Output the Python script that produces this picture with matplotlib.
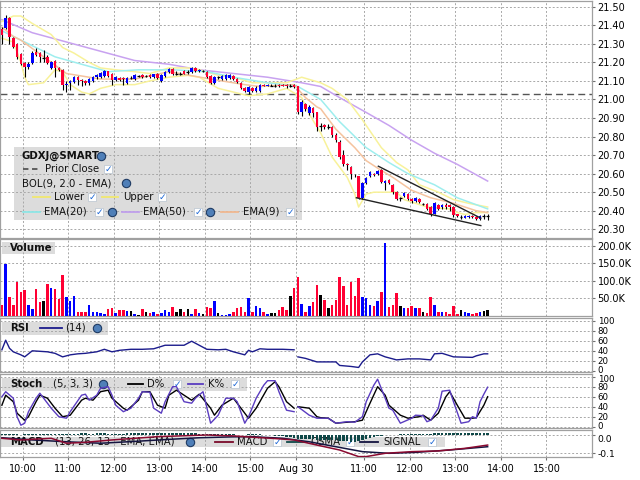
import matplotlib
matplotlib.use("Agg")
import matplotlib.pyplot as plt
from matplotlib.patches import Rectangle
from matplotlib.lines import Line2D
import matplotlib.transforms as mtransforms
import numpy as np

plt.rcParams['font.family'] = ['DejaVu Sans']

# ---------------- data (5-minute bars, day 1 = 0..77, day 2 = 78..128) ----------------
OPEN = [21.38,21.385,21.44,21.33,21.30,21.245,21.195,21.175,21.195,21.255,
        21.25,21.225,21.23,21.17,21.21,21.17,21.16,21.08,21.09,21.095,
        21.12,21.105,21.10,21.09,21.10,21.12,21.12,21.125,21.152,21.14,
        21.105,21.115,21.115,21.09,21.115,21.11,21.125,21.13,21.125,21.13,
        21.12,21.14,21.10,21.125,21.15,21.165,21.14,21.14,21.155,21.15,
        21.15,21.17,21.155,21.155,21.15,21.125,21.09,21.12,21.11,21.11,
        21.115,21.125,21.11,21.09,21.06,21.04,21.06,21.045,21.045,21.08,
        21.075,21.075,21.075,21.08,21.08,21.08,21.075,21.08,
        21.07,20.93,20.975,20.925,20.955,20.93,20.855,20.86,20.85,20.85,
        20.81,20.77,20.70,20.65,20.635,20.59,20.585,20.47,20.55,20.585,
        20.60,20.60,20.62,20.55,20.565,20.54,20.50,20.47,20.48,20.49,
        20.465,20.45,20.465,20.435,20.435,20.42,20.385,20.43,20.42,20.43,
        20.43,20.42,20.38,20.365,20.36,20.365,20.37,20.365,20.355,20.37,20.37]
HIGH = [21.39,21.455,21.445,21.335,21.305,21.25,21.20,21.20,21.26,21.28,
        21.255,21.265,21.24,21.21,21.215,21.175,21.165,21.10,21.105,21.125,
        21.125,21.11,21.105,21.115,21.125,21.135,21.15,21.16,21.155,21.145,
        21.125,21.12,21.12,21.12,21.125,21.135,21.13,21.135,21.13,21.135,
        21.14,21.145,21.135,21.155,21.17,21.17,21.155,21.15,21.16,21.16,
        21.175,21.175,21.165,21.16,21.155,21.13,21.125,21.125,21.13,21.135,
        21.135,21.13,21.115,21.095,21.065,21.075,21.065,21.07,21.085,21.085,
        21.085,21.085,21.085,21.085,21.085,21.085,21.085,21.085,
        21.075,20.995,20.98,20.97,20.96,20.935,20.875,20.87,20.87,20.855,
        20.82,20.78,20.725,20.66,20.64,20.60,20.59,20.555,20.58,20.615,
        20.605,20.62,20.625,20.565,20.57,20.545,20.505,20.475,20.50,20.495,
        20.47,20.475,20.47,20.44,20.44,20.425,20.445,20.435,20.435,20.44,
        20.435,20.425,20.385,20.375,20.375,20.375,20.375,20.37,20.375,20.38,20.38]
LOW = [21.30,21.38,21.30,21.28,21.22,21.185,21.12,21.165,21.19,21.235,
       21.20,21.20,21.19,21.165,21.12,21.155,21.05,21.04,21.05,21.09,
       21.08,21.075,21.08,21.08,21.095,21.11,21.115,21.12,21.12,21.08,
       21.10,21.10,21.08,21.085,21.11,21.105,21.12,21.115,21.12,21.115,
       21.115,21.11,21.095,21.12,21.145,21.13,21.13,21.13,21.135,21.14,
       21.145,21.15,21.15,21.15,21.115,21.085,21.085,21.11,21.105,21.105,
       21.11,21.105,21.09,21.055,21.04,21.03,21.04,21.04,21.04,21.07,
       21.07,21.07,21.065,21.065,21.07,21.06,21.065,21.06,
       20.92,20.91,20.94,20.915,20.905,20.83,20.83,20.84,20.84,20.80,
       20.77,20.68,20.64,20.62,20.57,20.58,20.465,20.465,20.545,20.58,
       20.59,20.595,20.55,20.51,20.545,20.49,20.46,20.455,20.475,20.46,
       20.44,20.445,20.44,20.43,20.405,20.37,20.38,20.405,20.41,20.41,
       20.40,20.365,20.365,20.355,20.36,20.36,20.36,20.35,20.35,20.355,20.35]
CLOSE = [21.35,21.44,21.335,21.285,21.23,21.19,21.175,21.19,21.25,21.24,
         21.23,21.225,21.195,21.20,21.17,21.16,21.08,21.085,21.10,21.12,
         21.105,21.10,21.09,21.11,21.12,21.13,21.145,21.152,21.125,21.105,
         21.12,21.105,21.11,21.115,21.115,21.13,21.125,21.12,21.125,21.12,
         21.135,21.115,21.13,21.15,21.165,21.135,21.14,21.14,21.14,21.15,
         21.17,21.155,21.16,21.155,21.12,21.09,21.12,21.12,21.125,21.13,
         21.13,21.11,21.095,21.06,21.045,21.065,21.045,21.06,21.08,21.075,
         21.08,21.075,21.075,21.07,21.075,21.07,21.075,21.065,
         20.93,20.985,20.95,20.96,20.925,20.85,20.855,20.85,20.85,20.81,
         20.78,20.69,20.65,20.645,20.60,20.585,20.47,20.55,20.575,20.61,
         20.595,20.615,20.555,20.56,20.55,20.50,20.465,20.47,20.495,20.465,
         20.45,20.47,20.445,20.435,20.41,20.385,20.44,20.41,20.43,20.42,
         20.42,20.375,20.37,20.365,20.37,20.37,20.365,20.355,20.37,20.37,20.37]
VOLUME_K = [32,148,55,31,98,67,74,31,19,77,
            38,41,91,81,76,48,117,55,41,57,
            12,12,12,32,12,12,8,6,19,22,
            8,15,15,13,13,4,2,19,10,7,
            12,5,8,15,11,25,12,19,12,19,
            5,19,7,4,24,23,41,7,3,3,
            4,10,23,25,10,52,12,29,23,10,
            5,8,8,15,24,15,57,81,
            112,34,12,29,39,88,60,45,23,32,
            45,112,86,32,98,57,107,55,52,32,
            29,41,69,209,25,32,64,27,23,21,
            29,23,23,12,7,55,31,10,12,10,
            4,29,4,15,12,8,6,7,12,13,15]

EMA50_BARS = [0,8,17,26,35,44,52,61,70,79,84,89,96,102,108,114,120,128]
EMA50 = [21.43,21.36,21.31,21.26,21.21,21.19,21.16,21.14,21.12,21.09,21.07,21.01,20.93,20.86,20.78,20.71,20.65,20.56]
EMA20_BARS = [0,5,14,21,28,36,45,54,61,70,78,84,89,96,102,107,114,120,124,128]
EMA20 = [21.37,21.32,21.23,21.19,21.15,21.16,21.16,21.15,21.12,21.09,21.07,21.00,20.88,20.74,20.66,20.60,20.54,20.47,20.44,20.41]
EMA9_BARS = [0,3,5,11,17,26,35,44,55,64,68,77,80,83,84,88,93,96,99,103,108,113,119,125,128]
EMA9 = [21.39,21.34,21.32,21.23,21.14,21.11,21.11,21.15,21.11,21.08,21.07,21.08,21.01,20.96,20.95,20.84,20.74,20.67,20.63,20.58,20.51,20.47,20.44,20.40,20.39]
BOL_UP_BARS = [0,3,5,8,13,16,19,23,26,30,35,39,44,49,52,57,61,66,70,75,79,84,87,91,95,100,104,107,110,115,119,123,128]
BOL_UP = [21.42,21.45,21.45,21.41,21.35,21.28,21.25,21.20,21.17,21.16,21.15,21.14,21.17,21.17,21.16,21.13,21.12,21.09,21.09,21.09,21.12,21.09,21.06,21.00,20.89,20.74,20.66,20.62,20.54,20.50,20.46,20.44,20.42]
BOL_LO_BARS = [0,3,5,6,7,11,14,16,18,21,23,26,30,35,39,44,49,52,57,61,65,70,75,79,81,84,87,91,93,94,96,98,104,106,112,118,120,122,125,128]
BOL_LO = [21.33,21.31,21.20,21.12,21.08,21.09,21.16,21.15,21.08,21.04,21.03,21.06,21.08,21.08,21.10,21.12,21.13,21.12,21.06,21.04,21.02,21.03,21.06,21.01,20.92,20.82,20.69,20.58,20.49,20.42,20.49,20.50,20.50,20.46,20.42,20.41,20.39,20.38,20.39,20.39]
PRIOR_CLOSE = 21.028
TREND_UP_BARS = [99.2, 126.2]
TREND_UP = [20.64, 20.36]
TREND_LO_BARS = [93.4, 126.2]
TREND_LO = [20.47, 20.32]

RSI_D1_BARS = [0,1,2,3,5,6,8,10,12,14,16,18,20,22,25,27,29,31,34,37,40,43,45,48,50,52,54,57,59,61,64,65,66,68,70,74,77]
RSI_D1 = [42,61,45,38,32,28,40,39,38,35,28,32,34,35,38,43,38,41,43,43,44,51,51,51,59,51,43,42,43,38,32,41,38,44,43,43,42]
RSI_D2_BARS = [78,80,83,88,89,92,94,95,96,97,99,101,104,107,110,113,114,116,119,124,125,127,128]
RSI_D2 = [28,25,18,18,11,9,7,18,25,32,34,28,22,24,24,22,34,35,28,27,30,34,34]

K_D1_BARS = [0,1,3,4,5,6,7,9,10,11,13,15,17,18,21,22,23,25,26,28,29,30,32,34,36,37,39,40,42,43,45,46,48,50,51,53,55,57,59,61,62,64,65,67,69,70,72,73,75,77]
K_D1 = [60,70,57,20,3,7,30,57,67,57,37,20,17,30,63,65,53,63,77,80,63,43,30,37,57,70,69,37,27,50,80,80,50,47,57,70,7,23,57,57,50,7,20,57,83,92,92,70,33,30]
K_D2_BARS = [78,81,83,84,86,88,91,93,95,96,98,99,101,102,103,105,108,109,111,112,113,115,116,118,119,121,123,124,125,126,127,128]
K_D2 = [40,23,17,17,17,7,10,9,20,50,83,95,57,37,33,7,17,23,22,10,13,37,71,73,50,7,10,20,17,50,65,79]
D_D1_BARS = [0,1,3,4,6,7,9,10,12,14,16,18,21,22,24,26,28,29,32,33,36,37,39,41,43,44,46,48,50,52,55,56,58,61,63,65,67,70,72,73,75,77]
D_D1 = [43,63,50,27,13,20,50,63,57,37,20,23,53,57,53,70,73,57,37,33,53,70,70,43,37,63,73,63,53,65,37,23,43,57,37,17,37,77,90,80,50,37]
D_D2_BARS = [78,81,83,84,86,88,91,93,95,97,99,101,102,105,107,110,111,113,115,117,118,120,122,124,125,127,128]
D_D2 = [40,37,20,18,17,7,9,10,13,47,80,63,43,23,17,20,23,13,27,60,70,43,17,17,18,43,60]

MACD_BARS = [0,5,13,17,22,29,35,41,47,54,61,66,71,77,83,89,94,96,101,108,115,122,128]
MACD = [-0.018,-0.027,-0.018,-0.045,-0.040,-0.027,-0.018,-0.009,-0.005,0.0,-0.005,-0.012,-0.018,-0.027,-0.055,-0.082,-0.118,-0.118,-0.100,-0.091,-0.087,-0.073,-0.055]
SIGNAL_BARS = [0,8,17,26,35,43,52,61,66,74,81,88,95,102,109,118,128]
SIGNAL = [-0.015,-0.027,-0.037,-0.045,-0.035,-0.025,-0.015,-0.010,-0.009,-0.018,-0.037,-0.064,-0.091,-0.100,-0.095,-0.082,-0.064]
OSMA = [0.004,0.006,0.008,0.006,0.004,0.002,0.004,0.006,0.008,0.008,
        0.006,0.006,0.004,0.004,0.006,0.008,0.006,0.004,0.006,0.008,
        0.008,0.010,0.010,0.008,0.008,0.010,0.010,0.010,0.008,0.008,
        0.008,0.008,0.008,0.010,0.010,0.010,0.010,0.010,0.010,0.010,
        0.010,0.010,0.012,0.012,0.012,0.010,0.010,0.010,0.010,0.010,
        0.010,0.010,0.008,0.008,0.006,0.006,0.006,0.006,0.006,0.006,
        0.004,0.004,0.002,0.002,0.002,0.004,0.004,0.004,0.004,0.002,
        0.002,-0.002,-0.004,-0.006,-0.008,-0.010,-0.012,-0.015,
        -0.020,-0.022,-0.022,-0.022,-0.024,-0.026,-0.026,-0.026,-0.028,-0.028,
        -0.030,-0.032,-0.034,-0.034,-0.036,-0.036,-0.034,-0.028,-0.022,-0.016,
        -0.012,-0.008,-0.006,-0.002,0.002,0.002,0.002,0.004,0.004,0.004,
        0.006,0.008,0.008,0.008,0.008,0.008,0.010,0.010,0.010,0.010,
        0.010,0.010,0.010,0.010,0.010,0.012,0.012,0.012,0.012,0.012,0.012]

PRICE_TICKS = [21.50,21.40,21.30,21.20,21.10,21.00,20.90,20.80,20.70,20.60,20.50,20.40,20.30]
VOL_TICKS = [50,100,150,200]
VOL_LABELS = ['50.0K','100.0K','150.0K','200.0K']
OSC_TICKS = [0,20,40,60,80,100]
MACD_TICKS = [0.0,-0.1]
MACD_LABELS = ['0.0','-0.1']
TIME_TICKS = [30,90,150,210,270,330,390,480,540,600,660,720]   # trading minutes since day-1 open
TIME_LABELS = ['10:00','11:00','12:00','13:00','14:00','15:00','Aug 30','11:00','12:00','13:00','14:00','15:00']

# ---------------- figure ----------------
W, H = 640, 480
fig = plt.figure(figsize=(6.4, 4.8), dpi=100)
fig.patch.set_facecolor('white')

def bx(b):
    return 5 * np.asarray(b, dtype=float) + 2.5

def make_ax(top, bottom):
    return fig.add_axes([0.0, 1 - bottom / H, 592 / W, (bottom - top) / H])

def style(ax, ticks, labels, ylim, lsize=7):
    ax.set_xlim(0, 780)
    ax.set_ylim(*ylim)
    ax.yaxis.tick_right()
    ax.set_yticks(ticks)
    ax.set_yticklabels(labels)
    ax.set_xticks(TIME_TICKS)
    ax.set_xticklabels([])
    ax.tick_params(axis='y', length=2.5, width=0.8, color='#707070', labelsize=lsize, pad=1.5, labelcolor='black')
    ax.tick_params(axis='x', length=0)
    ax.grid(True, color='#a8a8a8', linestyle=(0, (2, 2)), linewidth=0.7)
    ax.set_axisbelow(True)
    for s in ax.spines.values():
        s.set_color('#a0a0a0')
        s.set_linewidth(0.9)

def nudge(ax, text, dy_px):
    for lab in ax.get_yticklabels():
        if lab.get_text() == text:
            lab.set_transform(lab.get_transform() +
                              mtransforms.ScaledTranslation(0, dy_px / 100, fig.dpi_scale_trans))

def box(ax, x0, y0, x1, y1):
    ax.add_patch(Rectangle((x0 / W, 1 - y1 / H), (x1 - x0) / W, (y1 - y0) / H,
                           transform=fig.transFigure, facecolor='#dcdcdc',
                           edgecolor='none', zorder=0.2))

def txt(ax, x, y, s, bold=False, size=7.3):
    ax.text(x / W, 1 - y / H, s, transform=fig.transFigure, fontsize=size,
            fontweight='bold' if bold else 'normal', va='center', ha='left',
            color='#111111', zorder=5, clip_on=False)

def seg(ax, x0, x1, y, color, ls='-', lw=1.3):
    ax.add_line(Line2D([x0 / W, x1 / W], [1 - y / H] * 2, transform=fig.transFigure,
                       color=color, lw=lw, ls=ls, zorder=5))

def check(ax, x, y):
    ax.add_patch(Rectangle(((x - 4) / W, 1 - (y + 4) / H), 8 / W, 8 / H,
                           transform=fig.transFigure, facecolor='white',
                           edgecolor='#b8c4d0', lw=0.5, zorder=5))
    ax.text(x / W, 1 - y / H, '\u2713', transform=fig.transFigure, fontsize=6.5,
            fontweight='bold', color='#1a66d6', ha='center', va='center', zorder=6)

def globe(ax, x, y):
    ax.add_line(Line2D([x / W], [1 - y / H], transform=fig.transFigure, marker='o',
                       ms=6, mfc='#4f7fb8', mec='#1f3b63', mew=0.8, zorder=6))

o = np.array(OPEN); h = np.array(HIGH); l = np.array(LOW); c = np.array(CLOSE)
xb = bx(np.arange(len(o)))
up = c > o + 1e-9
dn = c < o - 1e-9
eq = ~(up | dn)
RED, BLUE = '#ff0033', '#0000ff'

# ---- price panel ----
axp = make_ax(1, 238)
style(axp, PRICE_TICKS, [f'{v:.2f}' for v in PRICE_TICKS], (20.253, 21.531))
axp.axhline(PRIOR_CLOSE, color='#555555', lw=1.0, ls=(0, (5, 3)), zorder=1.5)
axp.plot(bx(EMA50_BARS), EMA50, color='#c8a2f0', lw=1.1, zorder=2)
axp.plot(bx(BOL_UP_BARS), BOL_UP, color='#f8f29a', lw=1.1, zorder=2)
axp.plot(bx(BOL_LO_BARS), BOL_LO, color='#f8f29a', lw=1.1, zorder=2)
axp.plot(bx(EMA20_BARS), EMA20, color='#9eeeee', lw=1.1, zorder=2.1)
axp.plot(bx(EMA9_BARS), EMA9, color='#f5c39e', lw=1.1, zorder=2.2)
axp.vlines(xb, l, h, color='black', lw=0.8, zorder=3)
axp.bar(xb[up], (c - o)[up], bottom=o[up], width=3.4, color=BLUE, linewidth=0, zorder=4)
axp.bar(xb[dn], (o - c)[dn], bottom=c[dn], width=3.4, color=RED, linewidth=0, zorder=4)
axp.hlines(c[eq], xb[eq] - 1.8, xb[eq] + 1.8, color='black', lw=0.9, zorder=4)
axp.plot(bx(TREND_UP_BARS), TREND_UP, color='#222222', lw=1.0, zorder=5)
axp.plot(bx(TREND_LO_BARS), TREND_LO, color='#222222', lw=1.0, zorder=5)

box(axp, 14, 147, 302, 220)
txt(axp, 22, 156, 'GDXJ@SMART', bold=True)
globe(axp, 101, 156)
seg(axp, 23, 39, 169, '#555555', ls=(0, (3, 2)))
txt(axp, 45, 169, 'Prior Close')
check(axp, 108, 169)
txt(axp, 22, 183, 'BOL(9, 2.0 - EMA)')
globe(axp, 126, 183)
seg(axp, 33, 50, 197, '#f0e870')
txt(axp, 54, 197, 'Lower')
check(axp, 92, 197)
seg(axp, 102, 118, 197, '#f0e870')
txt(axp, 123, 197, 'Upper')
check(axp, 162, 197)
seg(axp, 23, 40, 212, '#8ee6e6')
txt(axp, 44, 212, 'EMA(20)')
check(axp, 99, 212)
globe(axp, 112, 212)
seg(axp, 122, 139, 212, '#c0a0ec')
txt(axp, 143, 212, 'EMA(50)')
check(axp, 198, 212)
globe(axp, 210, 212)
seg(axp, 221, 238, 212, '#f0b890')
txt(axp, 243, 212, 'EMA(9)')
check(axp, 290, 212)

# ---- volume panel ----
axv = make_ax(239, 316)
style(axv, VOL_TICKS, VOL_LABELS, (-0.9, 220.4))
vcol = np.where(up, BLUE, np.where(dn, RED, 'black'))
axv.bar(xb, VOLUME_K, width=3.3, color=vcol, linewidth=0, zorder=3)
box(axv, 2, 242, 55, 254)
txt(axv, 10, 248, 'Volume', bold=True)

# ---- RSI panel ----
axr = make_ax(318, 372)
style(axr, OSC_TICKS, [str(v) for v in OSC_TICKS], (-2, 105), lsize=6.2)
nudge(axr, '0', 1.5)
axr.plot(bx(RSI_D1_BARS), RSI_D1, color='#1c1c8c', lw=1.0, zorder=3)
axr.plot(bx(RSI_D2_BARS), RSI_D2, color='#1c1c8c', lw=1.0, zorder=3)
box(axr, 2, 322, 108, 335)
txt(axr, 10, 328, 'RSI', bold=True)
seg(axr, 40, 62, 328, '#1c1c8c')
txt(axr, 65, 328, '(14)')
globe(axr, 97, 328)

# ---- Stochastic panel ----
axs = make_ax(374, 428)
style(axs, OSC_TICKS, [str(v) for v in OSC_TICKS], (-2.6, 105.4), lsize=6.2)
nudge(axs, '100', -1.5)
nudge(axs, '0', 1.2)
box(axs, 2, 378, 247, 391)
txt(axs, 10, 384, 'Stoch', bold=True)
txt(axs, 53, 384, '(5, 3, 3)')
globe(axs, 103, 384)
seg(axs, 128, 143, 384, 'black')
txt(axs, 147, 384, 'D%')
check(axs, 177, 384)
seg(axs, 188, 203, 384, '#5a3cc0')
txt(axs, 208, 384, 'K%')
check(axs, 235, 384)
axs.plot(bx(D_D1_BARS), D_D1, color='black', lw=1.0, zorder=6)
axs.plot(bx(D_D2_BARS), D_D2, color='black', lw=1.0, zorder=6)
axs.plot(bx(K_D1_BARS), K_D1, color='#5a3cc0', lw=1.0, zorder=6)
axs.plot(bx(K_D2_BARS), K_D2, color='#5a3cc0', lw=1.0, zorder=6)

# ---- MACD panel ----
axm = make_ax(430, 457)
style(axm, MACD_TICKS, MACD_LABELS, (-0.1202, 0.0273), lsize=6.6)
nudge(axm, '0.0', -3.5)
axm.set_xticklabels(TIME_LABELS)
axm.tick_params(axis='x', length=2.5, width=0.8, color='#707070', labelsize=7, pad=2.5)
box(axm, 0, 437, 445, 447)
txt(axm, 10, 442, 'MACD', bold=True)
txt(axm, 55, 442, '(13, 26, 13 - EMA, EMA)')
globe(axm, 190, 442)
seg(axm, 215, 233, 442, '#7a0a2a')
txt(axm, 237, 442, 'MACD')
check(axm, 277, 442)
seg(axm, 287, 307, 442, '#0f4848')
txt(axm, 310, 442, 'OSMA')
check(axm, 350, 442)
seg(axm, 360, 378, 442, '#141440')
txt(axm, 383, 442, 'SIGNAL')
check(axm, 432, 442)
axm.bar(xb, OSMA, width=3.3, color='#0f4848', linewidth=0, zorder=6)
axm.plot(bx(SIGNAL_BARS), SIGNAL, color='#141440', lw=1.1, zorder=7)
axm.plot(bx(MACD_BARS), MACD, color='#8a0a30', lw=1.1, zorder=7)

fig.savefig('out.png', dpi=100, facecolor='white')
